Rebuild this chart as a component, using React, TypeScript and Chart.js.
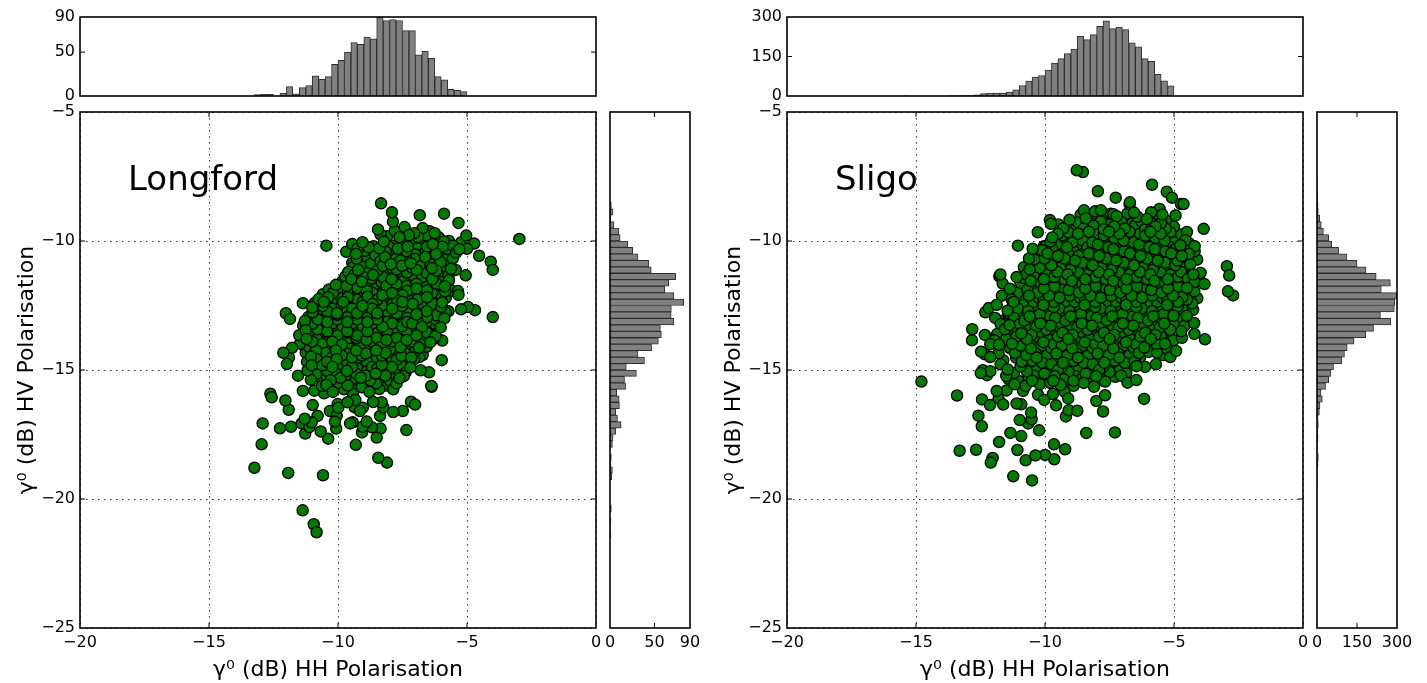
import React, { useEffect, useRef } from "react";
import { Chart, registerables } from "chart.js";

Chart.register(...registerables);

type P = [number, number];

// ---- Longford -------------------------------------------------------------
const longfordOutliers: P[] = [
  [-8.33,-8.54],[-7.91,-8.89],[-7.87,-9.25],[-6.83,-9.0],[-5.89,-8.94],[-5.33,-9.3],[-5.03,-9.79],[-2.97,-9.92],[-4.72,-10.1],[-4.53,-10.57],
  [-4.08,-10.8],[-4.0,-11.12],[-5.05,-11.33],[-5.44,-11.12],[-10.45,-10.18],[-4.0,-12.95],[-5.23,-12.65],[-4.96,-12.56],[-4.69,-12.68],
  [-5.35,-11.94],[-5.59,-11.93],[-5.33,-12.09],[-11.36,-12.41],[-12.02,-12.8],[-11.86,-13.02],[-12.12,-14.33],[-11.78,-14.14],[-11.9,-14.52],
  [-11.98,-14.77],[-11.55,-15.22],[-11.47,-13.97],[-6.8,-15.01],[-6.47,-15.09],[-5.98,-14.62],[-6.38,-15.62],[-6.56,-14.1],[-5.96,-13.86],
  [-11.37,-20.44],[-10.94,-20.98],[-10.83,-21.29],[-13.24,-18.79],[-11.93,-18.99],[-10.58,-19.08],[-8.44,-18.4],[-8.1,-18.59],[-12.96,-17.88],
  [-12.92,-17.07],[-12.25,-17.26],[-11.82,-17.2],[-11.27,-17.46],[-10.67,-17.38],[-10.38,-17.66],[-9.31,-17.9],[-8.5,-17.62],[-8.35,-17.27],
  [-7.35,-17.33],[-7.86,-16.63],[-7.49,-16.59],[-7.17,-16.23],[-7.01,-16.34],[-6.37,-15.65],[-12.62,-15.92],[-12.57,-16.06],[-12.04,-16.18],
  [-11.91,-16.54],[-11.36,-15.81],[-10.92,-15.8],[-10.54,-15.9],[-10.98,-16.36],[-10.79,-16.78],[-11.29,-16.89],[-11.41,-17.07],[-11.02,-17.03],
  [-11.11,-17.21],[-10.31,-16.59],[-9.99,-16.46],[-10.01,-16.32],[-10.12,-17.0],[-10.07,-17.27],[-10.05,-16.78],[-9.63,-16.25],[-9.33,-16.16],
  [-9.35,-16.45],[-9.04,-16.46],[-9.15,-16.59],[-9.43,-17.03],[-9.53,-17.07],[-9.04,-17.2],[-8.89,-17.0],[-9.07,-17.42],[-8.69,-17.22],
  [-8.64,-16.24],[-8.31,-16.25],[-8.24,-16.45],[-8.37,-16.78],[-7.73,-15.52],[-8.4,-15.74],[-9.08,-15.67],[-9.77,-15.75],
];
const longfordCore: P[] = [
  [-8.45,-9.55],[-8.35,-9.75],[-7.8,-9.6],[-7.42,-9.46],[-7.05,-9.7],[-6.72,-9.5],[-6.45,-9.62],[-6.1,-9.85],[-5.7,-10.0],
  [-9.45,-10.12],[-9.05,-10.05],[-8.62,-10.2],[-8.22,-10.02],[-7.88,-10.18],[-7.5,-10.0],[-7.12,-10.1],[-6.75,-9.98],[-6.33,-10.12],[-5.95,-10.22],[-5.55,-10.18],[-5.22,-10.05],[-5.0,-10.3],
  [-9.68,-10.42],[-9.3,-10.5],[-8.95,-10.38],[-8.55,-10.55],[-8.15,-10.42],[-7.78,-10.5],[-7.35,-10.4],[-7.0,-10.52],[-6.6,-10.38],[-6.2,-10.5],[-5.85,-10.55],[-5.42,-10.45],
  [-9.45,-10.85],[-9.1,-10.75],[-8.72,-10.88],[-8.35,-10.78],[-7.95,-10.9],[-7.58,-10.76],[-7.18,-10.86],[-6.8,-10.78],[-6.42,-10.9],[-6.02,-10.82],[-5.68,-10.92],
  [-9.6,-11.2],[-9.22,-11.12],[-8.85,-11.25],[-8.48,-11.15],[-8.08,-11.24],[-7.72,-11.1],[-7.32,-11.22],[-6.95,-11.12],[-6.55,-11.25],[-6.18,-11.15],[-5.82,-11.25],
  [-9.82,-11.55],[-9.48,-11.48],[-9.08,-11.58],[-8.7,-11.46],[-8.3,-11.6],[-7.92,-11.48],[-7.52,-11.58],[-7.15,-11.46],[-6.75,-11.56],[-6.35,-11.48],[-6.0,-11.6],[-5.7,-11.52],
  [-10.35,-11.88],[-10.0,-11.82],[-9.62,-11.92],[-9.25,-11.82],[-8.88,-11.94],[-8.48,-11.84],[-8.1,-11.92],[-7.72,-11.82],[-7.32,-11.94],[-6.95,-11.84],[-6.55,-11.92],[-6.18,-11.82],[-5.85,-11.95],
  [-10.75,-12.25],[-10.38,-12.18],[-10.02,-12.28],[-9.62,-12.18],[-9.25,-12.28],[-8.85,-12.16],[-8.48,-12.28],[-8.08,-12.18],[-7.7,-12.3],[-7.32,-12.18],[-6.92,-12.28],[-6.55,-12.18],[-6.15,-12.28],[-5.82,-12.2],
  [-11.0,-12.58],[-10.6,-12.52],[-10.22,-12.62],[-9.85,-12.5],[-9.45,-12.62],[-9.05,-12.52],[-8.68,-12.62],[-8.3,-12.5],[-7.9,-12.62],[-7.52,-12.52],[-7.12,-12.64],[-6.75,-12.52],[-6.35,-12.62],[-6.0,-12.55],[-5.72,-12.72],
  [-11.15,-12.95],[-10.8,-12.85],[-10.4,-12.95],[-10.02,-12.86],[-9.65,-12.96],[-9.25,-12.86],[-8.88,-12.98],[-8.48,-12.86],[-8.1,-12.96],[-7.72,-12.86],[-7.32,-12.98],[-6.95,-12.85],[-6.55,-12.96],[-6.2,-12.88],[-5.88,-13.0],
  [-11.35,-13.28],[-10.98,-13.2],[-10.6,-13.3],[-10.22,-13.2],[-9.82,-13.32],[-9.45,-13.2],[-9.05,-13.3],[-8.68,-13.2],[-8.28,-13.32],[-7.9,-13.2],[-7.52,-13.3],[-7.12,-13.2],[-6.75,-13.32],[-6.38,-13.22],[-6.02,-13.35],
  [-11.5,-13.65],[-11.15,-13.55],[-10.78,-13.65],[-10.4,-13.55],[-10.02,-13.66],[-9.62,-13.55],[-9.25,-13.66],[-8.85,-13.54],[-8.48,-13.66],[-8.1,-13.55],[-7.7,-13.66],[-7.32,-13.56],[-6.95,-13.66],[-6.55,-13.56],[-6.22,-13.68],
  [-11.4,-14.0],[-11.0,-13.9],[-10.62,-14.0],[-10.22,-13.9],[-9.85,-14.02],[-9.45,-13.9],[-9.08,-14.0],[-8.68,-13.9],[-8.3,-14.02],[-7.9,-13.9],[-7.52,-14.0],[-7.15,-13.9],[-6.78,-14.02],[-6.42,-13.92],
  [-11.25,-14.32],[-10.85,-14.24],[-10.48,-14.34],[-10.08,-14.24],[-9.7,-14.34],[-9.3,-14.24],[-8.92,-14.36],[-8.52,-14.24],[-8.15,-14.34],[-7.75,-14.24],[-7.38,-14.36],[-7.0,-14.26],[-6.72,-14.42],
  [-11.2,-14.68],[-10.82,-14.58],[-10.42,-14.68],[-10.05,-14.58],[-9.65,-14.7],[-9.28,-14.58],[-8.88,-14.68],[-8.5,-14.58],[-8.12,-14.7],[-7.72,-14.6],[-7.35,-14.7],[-7.05,-14.58],
  [-11.18,-15.02],[-10.8,-14.94],[-10.42,-15.04],[-10.02,-14.94],[-9.65,-15.04],[-9.25,-14.94],[-8.88,-15.06],[-8.48,-14.94],[-8.1,-15.04],[-7.72,-14.96],[-7.38,-15.1],
  [-11.05,-15.38],[-10.65,-15.3],[-10.28,-15.4],[-9.9,-15.3],[-9.5,-15.42],[-9.12,-15.3],[-8.75,-15.4],[-8.35,-15.3],[-7.98,-15.42],[-7.62,-15.32],
];
const longfordFill: P[] = [
  [-8.1,-9.82],[-7.62,-9.85],[-7.25,-9.78],[-6.9,-9.85],[-6.55,-9.8],[-6.25,-9.7],[-5.9,-10.02],
  [-9.25,-10.3],[-8.82,-10.24],[-8.4,-10.28],[-8.02,-10.22],[-7.68,-10.3],[-7.3,-10.22],[-6.92,-10.28],[-6.55,-10.22],[-6.14,-10.3],[-5.75,-10.34],[-5.3,-10.32],
  [-9.28,-10.68],[-8.88,-10.6],[-8.5,-10.7],[-8.18,-10.62],[-7.76,-10.7],[-7.38,-10.62],[-7.02,-10.7],[-6.62,-10.62],[-6.24,-10.7],[-5.82,-10.72],[-5.55,-10.68],
  [-9.42,-11.02],[-9.02,-10.98],[-8.66,-11.04],[-8.26,-10.96],[-7.9,-11.05],[-7.52,-10.96],[-7.12,-11.04],[-6.76,-10.96],[-6.36,-11.05],[-6.0,-11.0],[-5.62,-11.08],
  [-9.72,-11.38],[-9.38,-11.32],[-9.02,-11.4],[-8.64,-11.32],[-8.26,-11.4],[-7.9,-11.32],[-7.5,-11.4],[-7.12,-11.32],[-6.74,-11.4],[-6.36,-11.32],[-5.98,-11.4],[-5.72,-11.35],
  [-10.08,-11.7],[-9.66,-11.74],[-9.28,-11.66],[-8.9,-11.74],[-8.5,-11.66],[-8.12,-11.74],[-7.74,-11.66],[-7.34,-11.74],[-6.96,-11.66],[-6.56,-11.74],[-6.18,-11.66],[-5.86,-11.76],
  [-10.58,-12.06],[-10.2,-12.02],[-9.82,-12.1],[-9.44,-12.02],[-9.04,-12.1],[-8.66,-12.02],[-8.28,-12.1],[-7.9,-12.02],[-7.5,-12.1],[-7.14,-12.02],[-6.74,-12.1],[-6.36,-12.02],[-6.0,-12.1],
  [-10.9,-12.4],[-10.55,-12.36],[-10.2,-12.44],[-9.8,-12.36],[-9.42,-12.44],[-9.04,-12.36],[-8.66,-12.44],[-8.26,-12.36],[-7.88,-12.44],[-7.5,-12.36],[-7.1,-12.44],[-6.72,-12.36],[-6.34,-12.44],[-5.96,-12.38],
  [-10.98,-12.76],[-10.42,-12.72],[-10.04,-12.8],[-9.64,-12.72],[-9.26,-12.8],[-8.88,-12.72],[-8.48,-12.8],[-8.1,-12.72],[-7.72,-12.8],[-7.32,-12.72],[-6.94,-12.8],[-6.56,-12.72],[-6.18,-12.8],[-5.82,-12.78],
  [-11.28,-13.1],[-10.78,-13.04],[-10.42,-13.14],[-10.02,-13.04],[-9.64,-13.14],[-9.26,-13.04],[-8.86,-13.14],[-8.48,-13.04],[-8.1,-13.14],[-7.7,-13.04],[-7.32,-13.14],[-6.94,-13.04],[-6.56,-13.14],[-6.18,-13.06],
  [-11.25,-13.46],[-10.8,-13.42],[-10.42,-13.5],[-10.04,-13.42],[-9.64,-13.5],[-9.26,-13.42],[-8.86,-13.5],[-8.48,-13.42],[-8.1,-13.5],[-7.7,-13.42],[-7.34,-13.5],[-6.94,-13.42],[-6.56,-13.5],[-6.2,-13.44],
  [-11.22,-13.8],[-10.84,-13.76],[-10.44,-13.84],[-10.06,-13.76],[-9.66,-13.84],[-9.28,-13.76],[-8.9,-13.84],[-8.5,-13.76],[-8.12,-13.84],[-7.72,-13.76],[-7.34,-13.84],[-6.96,-13.76],[-6.6,-13.84],[-6.26,-13.78],
  [-11.1,-14.14],[-10.72,-14.12],[-10.3,-14.18],[-9.9,-14.12],[-9.52,-14.18],[-9.12,-14.12],[-8.74,-14.18],[-8.36,-14.12],[-7.96,-14.18],[-7.58,-14.12],[-7.2,-14.18],[-6.86,-14.14],
  [-11.05,-14.48],[-10.62,-14.46],[-10.24,-14.52],[-9.86,-14.44],[-9.46,-14.52],[-9.08,-14.44],[-8.7,-14.52],[-8.3,-14.44],[-7.92,-14.52],[-7.54,-14.46],[-7.16,-14.52],[-6.85,-14.5],
  [-11.02,-14.82],[-10.6,-14.82],[-10.22,-14.88],[-9.84,-14.8],[-9.46,-14.88],[-9.06,-14.8],[-8.68,-14.88],[-8.3,-14.8],[-7.9,-14.88],[-7.54,-14.82],[-7.2,-14.9],
  [-10.85,-15.16],[-10.46,-15.2],[-10.08,-15.14],[-9.7,-15.22],[-9.3,-15.14],[-8.92,-15.22],[-8.54,-15.14],[-8.16,-15.22],[-7.8,-15.16],[-7.45,-15.24],
  [-10.45,-15.58],[-10.05,-15.52],[-9.62,-15.6],[-9.28,-15.52],[-8.9,-15.58],[-8.52,-15.52],[-8.14,-15.6],[-7.86,-15.75],[-8.78,-15.85],[-9.42,-15.92],[-10.2,-15.85],[-10.62,-15.62],
];
const longfordHHCounts = [1.5,2,2,0,3.4,10.6,2.6,9.5,12,23,19,22,36,40.5,50,61,59,67,65,90,86,87,86,74.5,74.5,47,51,43,22,18.5,7.5,6.4,5];
const longfordHHFirstBin = -13.125;
const longfordHVCounts = [1.5,3.4,1,4.5,10,11.4,20,25.5,31.5,43.7,46.4,73.8,66,61.6,71.9,82.9,69,68.8,71.9,56.7,57.8,54.4,46.8,31.5,38.8,18.3,29.7,16.3,17.5,7.6,10.3,10.6,6.5,8.4,12.5,6.5,3.4,2.7,0,1.5,1,2.7,2,0,0,0,0,1.5,0,1,0,1];
const longfordHVFirstBin = -8.625;

// ---- Sligo ----------------------------------------------------------------
const sligoOutliers: P[] = [
  [-8.77,-7.26],[-8.53,-7.33],[-7.95,-8.07],[-7.26,-8.32],[-5.85,-7.82],[-5.28,-8.09],[-5.08,-8.32],[-4.73,-8.57],[-4.63,-8.57],[-4.94,-9.01],
  [-3.85,-9.53],[-2.95,-10.98],[-2.86,-11.34],[-2.91,-11.95],[-2.71,-12.11],[-3.82,-11.67],[-4.26,-12.67],[-4.2,-10.4],[-4.2,-10.2],[-4.56,-9.97],
  [-3.97,-11.24],[-4.25,-11.3],[-4.37,-10.9],[-4.21,-11.95],[-10.28,-9.66],[-11.05,-10.18],[-9.81,-9.19],[-9.77,-9.33],[-8.49,-8.81],[-8.06,-8.85],
  [-7.83,-8.81],[-7.45,-8.94],[-6.71,-8.5],[-6.72,-8.58],[-6.81,-8.94],[-5.56,-8.76],[-5.89,-8.89],[-10.04,-10.2],[-11.77,-11.37],[-11.73,-11.3],
  [-11.64,-11.65],[-11.36,-11.85],[-11.67,-12.12],[-11.29,-12.27],[-11.87,-12.47],[-12.18,-12.6],[-12.31,-12.76],[-11.42,-12.79],[-11.93,-12.98],
  [-14.79,-15.45],[-13.41,-15.99],[-12.44,-16.14],[-12.13,-16.36],[-11.8,-16.11],[-11.62,-16.34],[-11.87,-15.81],[-12.58,-16.77],[-12.45,-17.18],
  [-10.98,-16.94],[-10.54,-16.65],[-10.52,-16.91],[-10.65,-17.07],[-11.1,-16.3],[-10.92,-16.33],[-11.34,-17.44],[-10.92,-17.56],[-10.23,-17.34],
  [-11.78,-17.79],[-13.31,-18.13],[-12.67,-18.09],[-12.03,-18.41],[-12.1,-18.59],[-11.07,-18.1],[-10.75,-18.5],[-10.37,-18.31],[-10.0,-18.29],
  [-9.64,-18.46],[-9.65,-17.88],[-9.22,-18.07],[-11.23,-19.12],[-10.5,-19.28],[-8.4,-17.44],[-7.29,-17.42],[-6.16,-16.12],[-7.75,-16.61],[-8.75,-16.58],
  [-9.19,-16.8],[-9.08,-16.56],[-8.01,-16.2],[-7.67,-15.98],[-9.1,-16.1],[-9.57,-16.37],[-10.03,-16.16],[-8.1,-15.65],[-7.67,-15.45],[-6.8,-15.49],
  [-6.46,-15.39],[-6.12,-14.88],[-4.69,-13.75],[-4.21,-13.6],[-3.8,-13.81],[-4.22,-13.18],[-4.6,-13.29],[-4.92,-14.26],[-5.28,-14.16],[-5.14,-14.5],
  [-5.66,-14.33],[-6.15,-14.13],[-5.7,-14.78],[-12.82,-13.42],[-12.83,-13.85],[-12.33,-13.64],[-12.12,-14.0],[-12.48,-14.29],[-12.33,-14.39],[-12.12,-14.5],
  [-11.8,-14.35],[-12.41,-15.01],[-12.49,-15.12],[-12.12,-15.05],[-12.25,-15.2],[-11.5,-15.23],[-11.42,-15.34],[-10.98,-15.44],[-10.64,-15.36],[-10.85,-15.81],
  [-11.49,-15.79],[-10.27,-15.96],[-9.69,-15.93],[-9.24,-15.85],[-8.89,-15.61],
];
const sligoEdge: P[] = [
  [-11.72,-13.22],[-11.85,-13.6],[-11.78,-14.02],[-11.62,-14.62],[-11.45,-14.98],[-11.2,-15.12],[-11.72,-14.78],[-11.95,-13.85],[-10.75,-15.62],[-11.18,-15.55],
  [-9.48,-9.36],[-9.05,-9.18],[-8.62,-8.98],[-7.35,-8.96],[-6.55,-8.9],[-5.45,-8.98],[-10.48,-10.3],[-10.62,-10.68],[-10.82,-11.02],[-11.1,-11.4],
  [-4.5,-9.65],[-4.42,-10.08],[-4.1,-10.72],[-4.02,-11.5],[-4.1,-12.22],[-4.3,-12.42],[-4.5,-12.9],[-4.72,-13.5],[-5.02,-13.85],[-5.35,-13.98],[-5.42,-14.42],[-6.45,-14.85],[-7.05,-15.22],
];
const sligoCore: P[] = [
  [-8.42,-9.12],[-8.02,-9.05],[-7.62,-9.15],[-7.22,-9.04],[-6.82,-9.14],[-6.42,-9.06],[-6.05,-9.15],[-5.65,-9.05],[-5.32,-9.2],
  [-9.3,-9.52],[-8.9,-9.42],[-8.5,-9.52],[-8.12,-9.42],[-7.72,-9.54],[-7.32,-9.44],[-6.92,-9.52],[-6.52,-9.42],[-6.12,-9.54],[-5.72,-9.44],[-5.32,-9.52],[-5.0,-9.45],
  [-9.72,-9.86],[-9.32,-9.78],[-8.92,-9.88],[-8.52,-9.78],[-8.12,-9.88],[-7.72,-9.78],[-7.32,-9.88],[-6.92,-9.78],[-6.52,-9.9],[-6.12,-9.8],[-5.72,-9.88],[-5.32,-9.8],[-4.95,-9.9],[-4.72,-9.75],
  [-9.98,-10.2],[-9.55,-10.14],[-9.15,-10.24],[-8.75,-10.14],[-8.35,-10.24],[-7.95,-10.14],[-7.55,-10.24],[-7.15,-10.14],[-6.75,-10.24],[-6.35,-10.14],[-5.95,-10.24],[-5.55,-10.14],[-5.15,-10.24],[-4.75,-10.16],
  [-10.3,-10.55],[-9.9,-10.48],[-9.5,-10.58],[-9.1,-10.48],[-8.7,-10.58],[-8.3,-10.48],[-7.9,-10.58],[-7.5,-10.48],[-7.1,-10.58],[-6.7,-10.48],[-6.3,-10.58],[-5.9,-10.48],[-5.5,-10.58],[-5.1,-10.48],[-4.7,-10.58],[-4.42,-10.5],
  [-10.55,-10.92],[-10.15,-10.84],[-9.75,-10.94],[-9.35,-10.84],[-8.95,-10.94],[-8.55,-10.84],[-8.15,-10.94],[-7.75,-10.84],[-7.35,-10.94],[-6.95,-10.84],[-6.55,-10.94],[-6.15,-10.84],[-5.75,-10.94],[-5.35,-10.84],[-4.95,-10.94],[-4.6,-10.86],
  [-10.72,-11.3],[-10.32,-11.2],[-9.92,-11.3],[-9.52,-11.2],[-9.12,-11.3],[-8.72,-11.2],[-8.32,-11.3],[-7.92,-11.2],[-7.52,-11.3],[-7.12,-11.2],[-6.72,-11.3],[-6.32,-11.2],[-5.92,-11.3],[-5.52,-11.2],[-5.12,-11.3],[-4.72,-11.2],[-4.4,-11.32],
  [-10.95,-11.62],[-10.55,-11.55],[-10.15,-11.65],[-9.75,-11.55],[-9.35,-11.65],[-8.95,-11.55],[-8.55,-11.65],[-8.15,-11.55],[-7.75,-11.65],[-7.35,-11.55],[-6.95,-11.65],[-6.55,-11.55],[-6.15,-11.65],[-5.75,-11.55],[-5.35,-11.65],[-4.95,-11.55],[-4.55,-11.65],[-4.2,-11.58],
  [-11.05,-12.0],[-10.68,-11.9],[-10.28,-12.0],[-9.88,-11.9],[-9.48,-12.0],[-9.08,-11.9],[-8.68,-12.0],[-8.28,-11.9],[-7.88,-12.0],[-7.48,-11.9],[-7.08,-12.0],[-6.68,-11.9],[-6.28,-12.0],[-5.88,-11.9],[-5.48,-12.0],[-5.08,-11.9],[-4.68,-12.0],[-4.38,-11.92],
  [-11.22,-12.36],[-10.85,-12.26],[-10.45,-12.36],[-10.05,-12.26],[-9.65,-12.36],[-9.25,-12.26],[-8.85,-12.36],[-8.45,-12.26],[-8.05,-12.36],[-7.65,-12.26],[-7.25,-12.36],[-6.85,-12.26],[-6.45,-12.36],[-6.05,-12.26],[-5.65,-12.36],[-5.25,-12.26],[-4.85,-12.36],[-4.5,-12.28],
  [-11.45,-12.7],[-11.05,-12.62],[-10.65,-12.72],[-10.25,-12.62],[-9.85,-12.72],[-9.45,-12.62],[-9.05,-12.72],[-8.65,-12.62],[-8.25,-12.72],[-7.85,-12.62],[-7.45,-12.72],[-7.05,-12.62],[-6.65,-12.72],[-6.25,-12.62],[-5.85,-12.72],[-5.45,-12.62],[-5.05,-12.72],[-4.68,-12.64],
  [-11.6,-13.08],[-11.2,-12.98],[-10.8,-13.08],[-10.4,-12.98],[-10.0,-13.08],[-9.6,-12.98],[-9.2,-13.08],[-8.8,-12.98],[-8.4,-13.08],[-8.0,-12.98],[-7.6,-13.08],[-7.2,-12.98],[-6.8,-13.08],[-6.4,-12.98],[-6.0,-13.08],[-5.6,-12.98],[-5.2,-13.08],[-4.85,-13.0],
  [-11.55,-13.42],[-11.15,-13.34],[-10.75,-13.44],[-10.35,-13.34],[-9.95,-13.44],[-9.55,-13.34],[-9.15,-13.44],[-8.75,-13.34],[-8.35,-13.44],[-7.95,-13.34],[-7.55,-13.44],[-7.15,-13.34],[-6.75,-13.44],[-6.35,-13.34],[-5.95,-13.44],[-5.55,-13.34],[-5.15,-13.44],
  [-11.5,-13.8],[-11.1,-13.7],[-10.7,-13.8],[-10.3,-13.7],[-9.9,-13.8],[-9.5,-13.7],[-9.1,-13.8],[-8.7,-13.7],[-8.3,-13.8],[-7.9,-13.7],[-7.5,-13.8],[-7.1,-13.7],[-6.7,-13.8],[-6.3,-13.7],[-5.9,-13.8],[-5.5,-13.7],
  [-11.35,-14.16],[-10.95,-14.06],[-10.55,-14.16],[-10.15,-14.06],[-9.75,-14.16],[-9.35,-14.06],[-8.95,-14.16],[-8.55,-14.06],[-8.15,-14.16],[-7.75,-14.06],[-7.35,-14.16],[-6.95,-14.06],[-6.55,-14.16],[-6.2,-14.08],[-5.82,-14.2],
  [-11.12,-14.52],[-10.72,-14.42],[-10.32,-14.52],[-9.92,-14.42],[-9.52,-14.52],[-9.12,-14.42],[-8.72,-14.52],[-8.32,-14.42],[-7.92,-14.52],[-7.52,-14.42],[-7.12,-14.52],[-6.72,-14.42],[-6.32,-14.52],
  [-10.95,-14.86],[-10.55,-14.78],[-10.15,-14.88],[-9.75,-14.78],[-9.35,-14.88],[-8.95,-14.78],[-8.55,-14.88],[-8.15,-14.78],[-7.75,-14.88],[-7.35,-14.78],[-6.95,-14.88],[-6.6,-14.8],
  [-10.42,-15.22],[-10.02,-15.14],[-9.62,-15.24],[-9.22,-15.14],[-8.82,-15.24],[-8.42,-15.14],[-8.02,-15.24],[-7.62,-15.14],[-7.28,-15.26],
  [-10.2,-15.55],[-9.8,-15.5],[-9.4,-15.58],[-9.0,-15.48],[-8.6,-15.36],
];
const sligoFill: P[] = [
  [-8.72,-9.28],[-8.26,-9.3],[-7.84,-9.24],[-7.44,-9.32],[-7.04,-9.25],[-6.62,-9.32],[-6.26,-9.25],[-5.86,-9.32],[-5.5,-9.3],
  [-9.5,-9.72],[-9.1,-9.66],[-8.72,-9.72],[-8.3,-9.64],[-7.92,-9.72],[-7.52,-9.64],[-7.12,-9.72],[-6.72,-9.64],[-6.32,-9.72],[-5.92,-9.64],[-5.52,-9.72],[-5.14,-9.66],
  [-9.78,-10.02],[-9.36,-9.98],[-8.94,-10.06],[-8.54,-9.98],[-8.16,-10.06],[-7.76,-9.98],[-7.36,-10.06],[-6.96,-9.98],[-6.56,-10.06],[-6.16,-9.98],[-5.76,-10.06],[-5.36,-9.98],[-4.98,-10.06],
  [-10.12,-10.36],[-9.72,-10.32],[-9.34,-10.4],[-8.92,-10.32],[-8.52,-10.4],[-8.14,-10.32],[-7.74,-10.4],[-7.34,-10.32],[-6.94,-10.4],[-6.54,-10.32],[-6.14,-10.4],[-5.74,-10.32],[-5.34,-10.4],[-4.94,-10.32],[-4.56,-10.38],
  [-10.42,-10.72],[-10.02,-10.68],[-9.64,-10.76],[-9.24,-10.68],[-8.84,-10.76],[-8.44,-10.68],[-8.04,-10.76],[-7.64,-10.68],[-7.24,-10.76],[-6.84,-10.68],[-6.44,-10.76],[-6.04,-10.68],[-5.64,-10.76],[-5.24,-10.68],[-4.86,-10.76],[-4.52,-10.7],
  [-10.6,-11.1],[-10.2,-11.04],[-9.82,-11.12],[-9.42,-11.04],[-9.02,-11.12],[-8.62,-11.04],[-8.22,-11.12],[-7.82,-11.04],[-7.42,-11.12],[-7.02,-11.04],[-6.62,-11.12],[-6.22,-11.04],[-5.82,-11.12],[-5.42,-11.04],[-5.02,-11.12],[-4.62,-11.04],
  [-10.82,-11.44],[-10.42,-11.4],[-10.04,-11.48],[-9.64,-11.4],[-9.24,-11.48],[-8.84,-11.4],[-8.44,-11.48],[-8.04,-11.4],[-7.64,-11.48],[-7.24,-11.4],[-6.84,-11.48],[-6.44,-11.4],[-6.04,-11.48],[-5.64,-11.4],[-5.24,-11.48],[-4.84,-11.4],[-4.46,-11.46],
  [-10.84,-11.82],[-10.44,-11.76],[-10.04,-11.84],[-9.64,-11.76],[-9.24,-11.84],[-8.84,-11.76],[-8.44,-11.84],[-8.04,-11.76],[-7.64,-11.84],[-7.24,-11.76],[-6.84,-11.84],[-6.44,-11.76],[-6.04,-11.84],[-5.64,-11.76],[-5.24,-11.84],[-4.84,-11.76],[-4.5,-11.82],
  [-11.02,-12.18],[-10.62,-12.12],[-10.24,-12.2],[-9.84,-12.12],[-9.44,-12.2],[-9.04,-12.12],[-8.64,-12.2],[-8.24,-12.12],[-7.84,-12.2],[-7.44,-12.12],[-7.04,-12.2],[-6.64,-12.12],[-6.24,-12.2],[-5.84,-12.12],[-5.44,-12.2],[-5.04,-12.12],[-4.68,-12.18],
  [-11.26,-12.54],[-10.86,-12.48],[-10.46,-12.56],[-10.06,-12.48],[-9.66,-12.56],[-9.26,-12.48],[-8.86,-12.56],[-8.46,-12.48],[-8.06,-12.56],[-7.66,-12.48],[-7.26,-12.56],[-6.86,-12.48],[-6.46,-12.56],[-6.06,-12.48],[-5.66,-12.56],[-5.26,-12.48],[-4.86,-12.54],
  [-11.4,-12.9],[-11.0,-12.84],[-10.6,-12.92],[-10.2,-12.84],[-9.8,-12.92],[-9.4,-12.84],[-9.0,-12.92],[-8.6,-12.84],[-8.2,-12.92],[-7.8,-12.84],[-7.4,-12.92],[-7.0,-12.84],[-6.6,-12.92],[-6.2,-12.84],[-5.8,-12.92],[-5.4,-12.84],[-5.02,-12.9],
  [-11.38,-13.26],[-10.98,-13.22],[-10.58,-13.28],[-10.18,-13.2],[-9.78,-13.28],[-9.38,-13.2],[-8.98,-13.28],[-8.58,-13.2],[-8.18,-13.28],[-7.78,-13.2],[-7.38,-13.28],[-6.98,-13.2],[-6.58,-13.28],[-6.18,-13.2],[-5.78,-13.28],[-5.38,-13.2],[-5.0,-13.26],
  [-11.32,-13.62],[-10.92,-13.58],[-10.52,-13.64],[-10.12,-13.56],[-9.72,-13.64],[-9.32,-13.56],[-8.92,-13.64],[-8.52,-13.56],[-8.12,-13.64],[-7.72,-13.56],[-7.32,-13.64],[-6.92,-13.56],[-6.52,-13.64],[-6.12,-13.56],[-5.72,-13.64],[-5.34,-13.58],
  [-11.28,-13.98],[-10.86,-13.94],[-10.46,-14.0],[-10.06,-13.92],[-9.66,-14.0],[-9.26,-13.92],[-8.86,-14.0],[-8.46,-13.92],[-8.06,-14.0],[-7.66,-13.92],[-7.26,-14.0],[-6.86,-13.92],[-6.46,-14.0],[-6.06,-13.92],[-5.68,-13.98],
  [-11.16,-14.34],[-10.76,-14.28],[-10.36,-14.36],[-9.96,-14.28],[-9.56,-14.36],[-9.16,-14.28],[-8.76,-14.36],[-8.36,-14.28],[-7.96,-14.36],[-7.56,-14.28],[-7.16,-14.36],[-6.76,-14.28],[-6.36,-14.34],[-5.98,-14.3],
  [-10.9,-14.68],[-10.5,-14.64],[-10.1,-14.72],[-9.7,-14.64],[-9.3,-14.72],[-8.9,-14.64],[-8.5,-14.72],[-8.1,-14.64],[-7.7,-14.72],[-7.3,-14.64],[-6.9,-14.72],[-6.52,-14.66],
  [-10.7,-15.06],[-10.3,-15.0],[-9.9,-15.08],[-9.5,-15.0],[-9.1,-15.08],[-8.7,-15.0],[-8.3,-15.08],[-7.9,-15.0],[-7.5,-15.08],[-7.1,-15.0],[-6.85,-15.12],
  [-10.5,-15.42],[-10.08,-15.38],[-9.68,-15.42],[-9.28,-15.36],[-8.9,-15.42],[-8.5,-15.5],[-8.18,-15.42],[-7.8,-15.4],
];
const sligoHHCounts = [1,0,0,0,0,0,0,1,1,2,2,4,9,11,11,11,15,23,40,57,72,78,98,125,142,161,178,227,214,233,265,285,256,262,252,202,187,142,132,82,58,39];
const sligoHHFirstBin = -15.375;
const sligoHVCounts = [1,1,1,2.5,4,5,10,16,24,44,55,81,111,150,184,222,275,241,299,292,290,238,276,212,183,139,113,103,93,62,52,44,32,15,20,11,9,4,5,2,4,1,1,5,4,1,1,1];
const sligoHVFirstBin = -7.625;

const FONT = "'DejaVu Sans'";
const BIN = 0.25;
const binsFrom = (first: number, counts: number[], dir: number) =>
  counts.map((c, i) => ({ v: first + dir * i * BIN, c }));

const dash = (v: any) => String(v).replace("-", "\u2212");

// Draw order only: the overlap of the markers should not fall into rows.
const drawKey = ([x, y]: P) => {
  const k = x * 73.13 + y * 41.71;
  return k - Math.floor(k);
};
const inDrawOrder = (pts: P[]) => [...pts].sort((a, b) => drawKey(a) - drawKey(b));

const framePlugin = {
  id: "frame",
  afterDatasetsDraw(chart: any, _a: any, o: any) {
    const { ctx, chartArea: a, scales } = chart;
    ctx.save();
    ctx.strokeStyle = "#000";
    ctx.lineWidth = 1;
    (o.xTicks || []).forEach((v: number) => {
      const p = scales.x.getPixelForValue(v);
      ctx.beginPath();
      ctx.moveTo(p, a.bottom);
      ctx.lineTo(p, a.bottom - 5);
      ctx.moveTo(p, a.top);
      ctx.lineTo(p, a.top + 5);
      ctx.stroke();
    });
    (o.yTicks || []).forEach((v: number) => {
      const p = scales.y.getPixelForValue(v);
      ctx.beginPath();
      ctx.moveTo(a.left, p);
      ctx.lineTo(a.left + 5, p);
      ctx.moveTo(a.right, p);
      ctx.lineTo(a.right - 5, p);
      ctx.stroke();
    });
    ctx.lineWidth = 1.6;
    ctx.strokeRect(a.left, a.top, a.right - a.left, a.bottom - a.top);
    if (o.name) {
      ctx.fillStyle = "#000";
      ctx.font = `34px ${FONT}`;
      ctx.textAlign = "left";
      ctx.textBaseline = "alphabetic";
      ctx.fillText(o.name, a.left + 48, a.top + 78);
    }
    ctx.restore();
  },
};

const tickFont = { family: FONT, size: 16 };
const setTicks = (vals: number[]) => (axis: any) => {
  axis.ticks = vals.map((value) => ({ value }));
};
const fixWidth = (w: number) => (s: any) => {
  s.width = w;
};
const fixHeight = (h: number) => (s: any) => {
  s.height = h;
};

function scatterConfig(points: P[], name: string) {
  return {
    type: "scatter",
    data: {
      datasets: [
        {
          data: inDrawOrder(points).map(([x, y]) => ({ x, y })),
          backgroundColor: "#007a00",
          borderColor: "#000",
          borderWidth: 1.3,
          pointRadius: 5.6,
        },
      ],
    },
    options: {
      animation: false,
      responsive: false,
      layout: { padding: { top: 32, right: 30, left: 0, bottom: 0 } },
      plugins: {
        legend: { display: false },
        tooltip: { enabled: false },
        frame: { xTicks: [-15, -10, -5], yTicks: [-10, -15, -20], name },
      },
      scales: {
        x: {
          type: "linear",
          min: -20,
          max: 0,
          afterBuildTicks: setTicks([-20, -15, -10, -5, 0]),
          afterFit: fixHeight(55),
          grid: { color: "#333", lineWidth: 1, drawTicks: false },
          border: { display: false, dash: [1.5, 4.5] },
          ticks: { font: tickFont, color: "#000", padding: 5, maxRotation: 0, callback: dash },
          title: { display: true, text: "\u03B3\u2070 (dB) HH Polarisation", font: { family: FONT, size: 22 }, color: "#000", padding: { top: 1, bottom: 0 } },
        },
        y: {
          type: "linear",
          min: -25,
          max: -5,
          afterBuildTicks: setTicks([-5, -10, -15, -20, -25]),
          afterFit: fixWidth(80),
          grid: { color: "#333", lineWidth: 1, drawTicks: false },
          border: { display: false, dash: [1.5, 4.5] },
          ticks: { font: tickFont, color: "#000", padding: 5, callback: dash },
          title: { display: true, text: "\u03B3\u2070 (dB) HV Polarisation", font: { family: FONT, size: 22 }, color: "#000", padding: { top: 14, bottom: 0 } },
        },
      },
    },
  };
}

const barStyle = {
  backgroundColor: "#808080",
  borderColor: "#2e2e2e",
  borderWidth: 1,
  barPercentage: 1,
  categoryPercentage: 1,
};

function topHistConfig(first: number, counts: number[], max: number, mid: number) {
  return {
    type: "bar",
    data: {
      datasets: [{ ...barStyle, data: binsFrom(first, counts, 1).map((b) => ({ x: b.v, y: b.c })) }],
    },
    options: {
      animation: false,
      responsive: false,
      layout: { padding: { top: 17, right: 30, left: 0, bottom: 24 } },
      plugins: { legend: { display: false }, tooltip: { enabled: false }, frame: { yTicks: [mid] } },
      scales: {
        x: { type: "linear", min: -20, max: 0, display: false, offset: false },
        y: {
          min: 0,
          max,
          afterBuildTicks: setTicks([0, mid, max]),
          afterFit: fixWidth(80),
          grid: { display: false, drawTicks: false },
          border: { display: false },
          ticks: { font: tickFont, color: "#000", padding: 5 },
        },
      },
    },
  };
}

function rightHistConfig(first: number, counts: number[], max: number, mid: number) {
  return {
    type: "bar",
    data: {
      datasets: [{ ...barStyle, data: binsFrom(first, counts, -1).map((b) => ({ x: b.c, y: b.v })) }],
    },
    options: {
      indexAxis: "y",
      animation: false,
      responsive: false,
      layout: { padding: { top: 32, right: 30, left: 30, bottom: 0 } },
      plugins: { legend: { display: false }, tooltip: { enabled: false }, frame: { xTicks: [mid] } },
      scales: {
        x: {
          min: 0,
          max,
          afterBuildTicks: setTicks([0, mid, max]),
          afterFit: fixHeight(55),
          grid: { display: false, drawTicks: false },
          border: { display: false },
          ticks: { font: tickFont, color: "#000", padding: 5, maxRotation: 0 },
        },
        y: { type: "linear", min: -25, max: -5, display: false, offset: false },
      },
    },
  };
}

const panels = [
  { left: 0, top: 0, width: 626, height: 120, make: () => topHistConfig(longfordHHFirstBin, longfordHHCounts, 90, 50) },
  { left: 0, top: 80, width: 626, height: 603, make: () => scatterConfig([...longfordCore, ...longfordFill, ...longfordOutliers], "Longford") },
  { left: 580, top: 80, width: 140, height: 603, make: () => rightHistConfig(longfordHVFirstBin, longfordHVCounts, 90, 50) },
  { left: 707, top: 0, width: 626, height: 120, make: () => topHistConfig(sligoHHFirstBin, sligoHHCounts, 300, 150) },
  { left: 707, top: 80, width: 626, height: 603, make: () => scatterConfig([...sligoCore, ...sligoFill, ...sligoEdge, ...sligoOutliers], "Sligo") },
  { left: 1287, top: 80, width: 140, height: 603, make: () => rightHistConfig(sligoHVFirstBin, sligoHVCounts, 300, 150) },
];

function Panel({ p }: { p: (typeof panels)[number] }) {
  const ref = useRef<HTMLCanvasElement>(null);
  useEffect(() => {
    const chart = new Chart(ref.current as any, { ...(p.make() as any), plugins: [framePlugin] });
    return () => chart.destroy();
  }, []);
  return (
    <canvas
      ref={ref}
      width={p.width}
      height={p.height}
      style={{ position: "absolute", left: p.left, top: p.top, width: p.width, height: p.height, display: "block" }}
    />
  );
}

export default function App() {
  return (
    <div style={{ position: "absolute", left: 0, top: 0, width: 1427, height: 683, overflow: "hidden", background: "#fff" }}>
      {panels.map((p, i) => (
        <Panel key={i} p={p} />
      ))}
    </div>
  );
}
